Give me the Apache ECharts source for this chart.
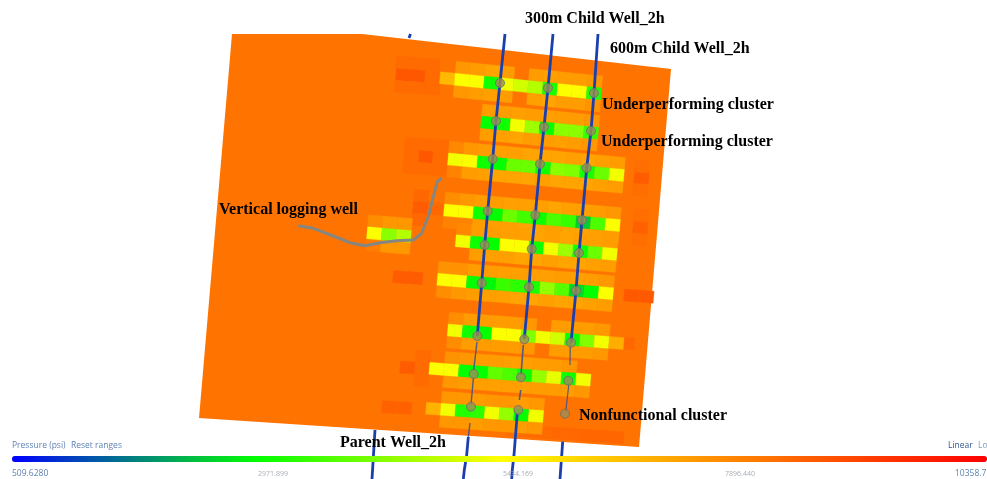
<!DOCTYPE html>
<html>
<head>
<meta charset="utf-8">
<style>
  html, body { margin: 0; background: #fff; }
  #chart { width: 987px; height: 479px; filter: blur(0.45px); }
</style>
<script src="https://cdn.jsdelivr.net/npm/echarts@6/dist/echarts.min.js"></script>
</head>
<body>
<div id="chart"></div>
<script>
// pressure range of the colour bar
const pressureMin = 509.628
const pressureMax = 10358.7
const plateValue = 8150

// reservoir plate outline, the top is cut off by the image crop
const plateX = [232, 362, 671, 639, 199]
const plateY = [34, 34, 69, 447, 418]

// frac stages: left end of the centre row and pressures of the 3 rows
const stageX = [440, 481, 448, 444, 455.7, 437.3, 447.7, 429.3, 426, 367]
const stageY = [77.7, 122, 159, 210, 240.7, 279.3, 330, 368.3, 408.3, 232.7]

const upper1 = [null, 7450, 7350, 7200, 7350, null, 7350, 7300, 7350, 7350, 7450]
const mid1 = [6800, 5400, 5400, 3100, 5300, 5000, 4700, 3200, 5400, 5400, 3300]
const lower1 = [null, 7450, 7350, 7300, 7350, null, 7300, 7200, 7350, 7350, 7500]

const upper2 = [7350, 7350, 7300, 7350, 7300, 7350, 7350, 7450]
const mid2 = [3000, 3100, 5300, 4500, 3000, 4300, 4300, 3500]
const lower2 = [7350, 7300, 7200, 7350, 7350, 7300, 7350, 7450]

const upper3 = [7750, 7450, 7350, 7300, 7300, 7200, 7200, 7200, 7300, 7200, 7300, 7350]
const mid3 = [5300, 5400, 3100, 3000, 4000, 4000, 3100, 4300, 4200, 3200, 4000, 5300]
const lower3 = [7850, 7350, 7300, 7200, 7200, 7200, 7300, 7200, 7200, 7200, 7300, 7350]

const upper4 = [7650, 7450, 7350, 7350, 7300, 7300, 7300, 7200, 7300, 7300, 7350, 7450]
const mid4 = [5400, 5400, 3100, 2950, 4000, 3600, 3100, 3700, 3500, 2500, 3700, 5400]
const lower4 = [7850, 7850, 7350, 7300, 7300, 7200, 7200, 7300, 7200, 7200, 7300, 7350]

const upper5 = [7750, 7350, 7350, 7300, 7300, 7200, 7300, 7200, 7300, 7300, 7350]
const mid5 = [5300, 3100, 3000, 5400, 5400, 3100, 5300, 4500, 3100, 4000, 5300]
const lower5 = [null, 7350, 7300, 7300, 7200, 7200, 7300, 7200, 7200, 7300, 7350]

const upper6 = [7550, 7550, 7350, 7350, 7300, 7300, 7300, 7300, 7350, 7300, 7350, 7450]
const mid6 = [5400, 5400, 3000, 2900, 3500, 3400, 3200, 4400, 3800, 2600, 3000, 5400]
const lower6 = [7650, 7450, 7350, 7300, 7300, 7200, 7200, 7300, 7200, 7200, 7300, 7350]

const upper7 = [7650, 7350, 7350, 7350, 7350, 7450, null, 7350, 7350, 7350, 7450, null]
const mid7 = [5300, 3100, 3000, 5400, 5400, 4200, 5300, 5000, 3100, 4200, 5300, 7000]
const lower7 = [7650, 7350, 7350, 7350, 7350, 7450, null, 7350, 7350, 7350, 7450, null]

const upper8 = [null, 7550, 7450, 7350, 7350, 7300, 7300, 7350, 7350, 7450, null]
const mid8 = [5400, 5400, 3000, 3000, 3900, 3700, 3100, 4400, 5200, 3100, 5300]
const lower8 = [null, 7450, 7350, 7300, 7300, 7300, 7300, 7350, 7350, 7350, 7450]

const upper9 = [null, 7450, 7450, 7350, 7450, 7450, 7350, 7450]
const mid9 = [6900, 5300, 3300, 3400, 5300, 4400, 3000, 5300]
const lower9 = [null, 7450, 7450, 7350, 7450, 7450, 7350, 7450]

const upper10 = [7650, 7450, 7450]
const mid10 = [5400, 4300, 4700]
const lower10 = [7950, 7450, 7450]

const stageUpper = [upper1, upper2, upper3, upper4, upper5, upper6, upper7, upper8, upper9, upper10]
const stageMid = [mid1, mid2, mid3, mid4, mid5, mid6, mid7, mid8, mid9, mid10]
const stageLower = [lower1, lower2, lower3, lower4, lower5, lower6, lower7, lower8, lower9, lower10]

// isolated hot cells outside the stages, last ones are the redder strip along the bottom edge
const patchX = [396, 411, 396, 411, 425, 395, 410, 425, 425, 418, 404, 433, 405, 419, 434, 403, 417, 432, 634, 634, 633, 413, 414, 412, 428, 633, 634, 632, 393, 408, 624, 639, 400, 415, 416, 414, 382, 397, 620, 508, 523, 537, 552, 567, 581, 596, 609]
const patchY = [74, 75, 62, 63, 64, 86, 87, 88, 76, 156, 155, 157, 143, 144, 145, 167, 168, 169, 177.5, 166, 189, 207, 195, 219, 208, 227, 215, 239, 276.5, 277.5, 295, 296, 367, 368, 356, 380, 406.5, 407.5, 343, 430, 431, 432, 433, 434, 435, 436, 437]
const patchValues = [8700, 8700, 8300, 8300, 8300, 8300, 8300, 8300, 8300, 8700, 8300, 8300, 8300, 8300, 8300, 8300, 8300, 8300, 8600, 8250, 8250, 8600, 8350, 8350, 8350, 8500, 8250, 8250, 8600, 8600, 8650, 8650, 8600, 8300, 8300, 8300, 8500, 8500, 8350, 8250, 8300, 8300, 8350, 8350, 8400, 8400, 8400]

// horizontal wells, '-' breaks the line where it dips under the plate
const wellAx = [505, 500, 496, 492.7, 487.7, 484.7, 481.7, 477.3, '-', 468.3, 466.7, 464.3, 463.3]
const wellAy = [34, 83, 121, 159, 211, 245, 283, 336, '-', 437, 455, 470, 479]
const wellBx = [553, 548, 544, 540, 535.3, 531.7, 529, 524.3, '-', 517.3, 514, 512.3, 511.7]
const wellBy = [34, 88, 127, 164, 215, 249, 287, 339, '-', 413, 455, 470, 479]
const wellCx = [598, 594, 591, 586.7, 582, 579, 576, 571, '-', 562.7, 560]
const wellCy = [34, 93, 131, 168, 220, 253, 290.7, 342.7, '-', 441.7, 479]
const parentX = [410.5, 409, '-', 375, 372]
const parentY = [34, 38, '-', 430, 479]

// faded parts of the wells inside the plate
const thinAx = [477, 473.7, '-', 473.4, 471, '-', 470, 468.3]
const thinAy = [342, 370, '-', 378, 405, '-', 423, 437]
const thinBx = [523.3, 521, '-', 520.7, 519.3]
const thinByPts = [345, 375, '-', 390, 400]
const thinCx = [570.3, 570, '-', 569, 565.7]
const thinCy = [343, 365, '-', 383, 412]

// perforation clusters
const dotAx = [500, 496, 492.7, 487.7, 484.7, 481.7, 477.3, 473.7, 471]
const dotAy = [83, 121, 159, 211, 245, 283, 336, 374, 406.7]
const dotBx = [548, 544, 540, 535.3, 531.7, 529, 524.3, 521, 518.3]
const dotBy = [88, 127, 164, 215, 249, 287, 339.3, 377.3, 410]
const dotCx = [594, 591, 586.7, 582, 579, 576, 571, 568.3, 565]
const dotCy = [93, 131, 168, 220, 253, 290.7, 342.7, 380.7, 413.7]

// vertical logging well track
const loggingX = [298.3, 313.3, 333.3, 350, 365, 380, 396.7, 413.3, 421.7, 428.3, 433.3, 437.3, 441.7]
const loggingY = [225.7, 228.3, 236, 242.7, 245.7, 242.7, 240.7, 240, 233.3, 216.7, 196.7, 181.7, 178.3]

const pressureColors = ['#0000ff', '#00ff00', '#ffff00', '#ff8000', '#ff0000']

const zipXY = (xs, ys) => xs.map((x, i) => [x, ys[i]])

// model grid follows the plate, rows flatten a bit toward the bottom
const cellW = 14.66
const cellH = 12
const lean = 0.085
const slopeAt = y => 0.105 - 0.000094 * (y - 34)

function cellData() {
  const cells = []
  patchX.forEach((x, i) => cells.push([x, patchY[i], patchValues[i]]))
  stageX.forEach((x0, s) => {
    const y0 = stageY[s]
    const slope = slopeAt(y0)
    const addRow = (vals, off) => vals.forEach((val, i) => {
      if (val == null) return
      cells.push([x0 + i * cellW - off * lean, y0 + i * cellW * slope + off, val])
    })
    addRow(stageUpper[s], -cellH)
    addRow(stageLower[s], cellH)
    addRow(stageMid[s], 0)
  })
  return cells
}

function renderCell(params, api) {
  const x = api.value(0)
  const y = api.value(1)
  const rise = cellW * slopeAt(y)
  const h = cellH / 2
  const pts = [
    [x + h * lean, y - h],
    [x + cellW + h * lean, y + rise - h],
    [x + cellW - h * lean, y + rise + h],
    [x - h * lean, y + h]
  ].map(p => api.coord(p))
  const color = api.visual('color')
  return { type: 'polygon', shape: { points: pts }, style: { fill: color, stroke: color, lineWidth: 0.3 } }
}

function renderPlate(params, api) {
  const pts = zipXY(plateX, plateY).map(p => api.coord(p))
  return { type: 'polygon', shape: { points: pts }, style: { fill: api.visual('color') } }
}

function wellLine(xs, ys, width, color, opacity) {
  return {
    type: 'line',
    data: zipXY(xs, ys),
    symbol: 'none',
    z: 3,
    lineStyle: { color: color, width: width, opacity: opacity == null ? 1 : opacity },
    silent: true
  }
}

function dots(xs, ys) {
  return {
    type: 'scatter',
    data: zipXY(xs, ys),
    symbolSize: 9,
    z: 4,
    itemStyle: { color: '#a08c55', borderColor: '#66706a', borderWidth: 1 },
    silent: true
  }
}

function note(text, x, y) {
  return {
    type: 'text', x: x, y: y, z: 20,
    style: { text: text, fill: '#000', font: 'bold 16px "Liberation Serif"', textVerticalAlign: 'middle' }
  }
}

function uiText(text, x, y, fill, size, align) {
  return {
    type: 'text', x: x, y: y, z: 20,
    style: { text: text, fill: fill, font: size + 'px "Open Sans"', textAlign: align || 'left', textVerticalAlign: 'middle' }
  }
}

const chart = echarts.init(document.getElementById('chart'))
chart.setOption({
  animation: false,
  backgroundColor: '#fff',
  grid: { left: 0, right: 0, top: 0, bottom: 0 },
  xAxis: { type: 'value', min: 0, max: 987, show: false },
  yAxis: { type: 'value', min: 0, max: 479, inverse: true, show: false },
  visualMap: {
    type: 'continuous',
    seriesIndex: [0, 1],
    dimension: 2,
    min: pressureMin,
    max: pressureMax,
    orient: 'horizontal',
    left: 12,
    top: 456,
    padding: 0,
    itemWidth: 6,
    itemHeight: 975,
    calculable: false,
    hoverLink: false,
    inRange: { color: pressureColors }
  },
  graphic: [
    note('300m Child Well_2h', 525, 19),
    note('600m Child Well_2h', 610, 49),
    note('Underperforming cluster', 602, 105),
    note('Underperforming cluster', 601, 142),
    note('Vertical logging well', 219, 210),
    note('Nonfunctional cluster', 579, 416),
    note('Parent Well_2h', 340, 443),
    uiText('Pressure (psi)', 12, 446, '#5f82b4', 8.5),
    uiText('Reset ranges', 71, 446, '#5f82b4', 8.5),
    uiText('Linear', 948, 446, '#34558f', 8.5),
    uiText('Lo', 978, 446, '#7f9cc4', 8.5),
    uiText('509.6280', 12, 474, '#5f82b4', 8.5),
    uiText('2971.899', 273, 474, '#a8adb5', 7, 'center'),
    uiText('5434.169', 518, 474, '#a8adb5', 7, 'center'),
    uiText('7896.440', 740, 474, '#a8adb5', 7, 'center'),
    uiText('10358.7', 955, 474, '#5f82b4', 8.5)
  ],
  series: [
    { type: 'custom', coordinateSystem: 'cartesian2d', data: [[plateX[0], plateY[0], plateValue]], renderItem: renderPlate, z: 1, silent: true },
    { type: 'custom', coordinateSystem: 'cartesian2d', data: cellData(), renderItem: renderCell, z: 2, silent: true },
    wellLine(wellAx, wellAy, 2.8, '#1c3fb0'),
    wellLine(wellBx, wellBy, 2.8, '#1c3fb0'),
    wellLine(wellCx, wellCy, 2.8, '#1c3fb0'),
    wellLine(parentX, parentY, 2.8, '#1c3fb0'),
    wellLine(thinAx, thinAy, 1.4, '#3a4f90', 0.85),
    wellLine(thinBx, thinByPts, 1.6, '#3a4f90', 0.85),
    wellLine(thinCx, thinCy, 1.2, '#3a4f90', 0.85),
    wellLine(loggingX, loggingY, 3, '#868680'),
    dots(dotAx, dotAy),
    dots(dotBx, dotBy),
    dots(dotCx, dotCy)
  ]
})
</script>
</body>
</html>
